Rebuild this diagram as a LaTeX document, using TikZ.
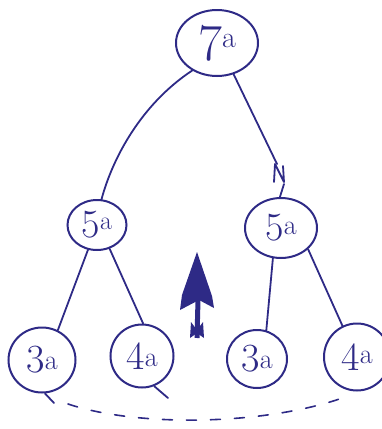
\documentclass[tikz,border=0pt]{standalone}
\usetikzlibrary{shapes.geometric,arrows.meta}
\definecolor{ink}{HTML}{2E2A86}
\begin{document}
\begin{tikzpicture}[x=1pt,y=-1pt,
  bub/.style={draw=ink,ellipse,line width=2pt,inner sep=0pt,text=ink},
  lnk/.style={draw=ink,line width=1.8pt,line cap=round,line join=round},
  big/.style={font=\fontsize{52}{52}\selectfont},
  mid/.style={font=\fontsize{40}{40}\selectfont}]
\useasboundingbox (0,0) rectangle (381,429);
\newcommand\supa[2]{\raisebox{#1}{\fontsize{#2}{#2}\selectfont a}}
\node[bub,big,minimum width=82pt,minimum height=66pt] (r) at (217,43) {7\supa{13pt}{30}};
\node[bub,mid,minimum width=59pt,minimum height=50pt] (l) at (97,225) {5\supa{8pt}{26}};
\node[bub,mid,minimum width=72pt,minimum height=60pt] (rr) at (281,228) {5\supa{6pt}{28}};
\node[bub,mid,minimum width=67pt,minimum height=65pt] (a) at (42,360) {3\supa{3pt}{28}};
\node[bub,mid,minimum width=63pt,minimum height=63pt] (b) at (142,356) {4\supa{3pt}{28}};
\node[bub,mid,minimum width=60pt,minimum height=58pt] (c) at (257,359) {3\supa{3pt}{28}};
\node[bub,mid,minimum width=66pt,minimum height=67pt] (d) at (357,357) {4\supa{7pt}{28}};
% edges
\draw[lnk] (r.228) .. controls (140,105) and (112,160) .. (l.80);
\coordinate (z1) at (277,164);
\coordinate (z2) at (284,184);
\draw[lnk] (r.298) -- (z1);
\draw[lnk] (274,182) -- (275,164) -- (284,182) -- (283,166);
\draw[lnk] (z2) -- (rr.92);
\draw[lnk] (l.250) -- (a.62);
\draw[lnk] (l.298) -- (b.88);
\draw[lnk] (rr.255) -- (c.72);
\draw[lnk] (rr.322) -- (d.115);
% ticks below leaves
\coordinate (ta) at (54,403);
\coordinate (tb) at (168,398);
\draw[lnk] (a.275) -- (ta);
\draw[lnk] (b.292) -- (tb);
% dashed arc
\coordinate (s) at (68,404);
\coordinate (e) at (348,396);
\draw[draw=ink,line width=1.6pt,line cap=round,dash pattern=on 10pt off 14pt] (s) .. controls (140,428) and (270,425) .. (e);
% arrow
\coordinate (ab) at (197,338);
\coordinate (at) at (197,252);
\draw[draw=ink,line width=5pt] (ab) -- (198,300);
\fill[ink] (at) -- (212,296) -- (214,308) -- (199,300) -- (180,310) -- (182,295) -- cycle;
\fill[ink] (191,322) -- (197,330) -- (203,322) -- (204,338) -- (197,333) -- (190,338) -- cycle;
\end{tikzpicture}
\end{document}
